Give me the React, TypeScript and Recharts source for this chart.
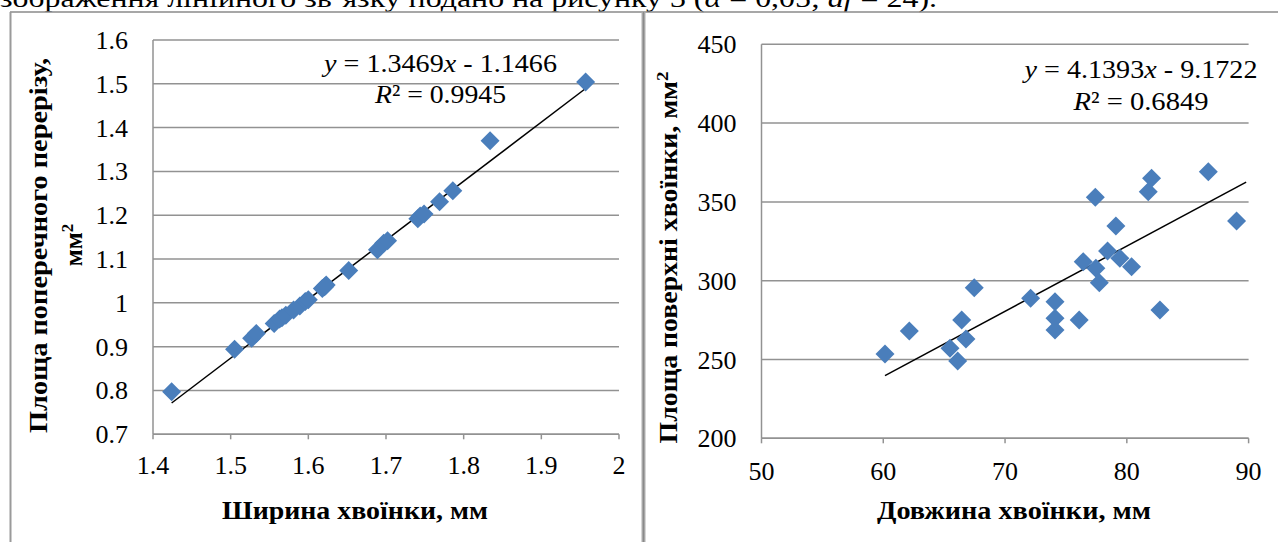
import React from 'react';
import { ScatterChart, Scatter, XAxis, YAxis, CartesianGrid, ReferenceLine } from 'recharts';

// ---- Left chart: needle width (mm) vs cross-section area (mm²)
const leftWidth = [1.424, 1.505, 1.527, 1.533, 1.556, 1.563, 1.566, 1.571, 1.581, 1.589, 1.596, 1.600, 1.618, 1.621, 1.623, 1.652, 1.689, 1.697, 1.702, 1.741, 1.744, 1.749, 1.769, 1.786, 1.834, 1.957];
const leftArea = [0.797, 0.894, 0.919, 0.930, 0.953, 0.963, 0.966, 0.972, 0.984, 0.993, 1.003, 1.007, 1.033, 1.037, 1.041, 1.074, 1.121, 1.136, 1.142, 1.192, 1.198, 1.203, 1.231, 1.256, 1.370, 1.504];
const leftSlope = 1.3469;
const leftIntercept = -1.1466;
const leftR2 = '0.9945';
const leftTrendX = [1.424, 1.957];
const leftXTicks = [1.4, 1.5, 1.6, 1.7, 1.8, 1.9, 2];
const leftYTicks = [0.7, 0.8, 0.9, 1, 1.1, 1.2, 1.3, 1.4, 1.5, 1.6];

// ---- Right chart: needle length (mm) vs needle surface area (mm²)
const rightLength = [60.14, 62.14, 66.44, 67.47, 65.48, 66.11, 66.79, 72.1, 74.1, 74.1, 74.1, 76.09, 76.42, 77.46, 77.74, 77.41, 78.42, 79.1, 79.43, 80.39, 81.76, 82.03, 82.72, 86.69, 89.01];
const rightSurface = [253.5, 268.1, 275.1, 295.6, 257.1, 249.1, 263.0, 288.8, 286.7, 276.1, 268.7, 275.1, 312.1, 307.9, 298.7, 352.9, 318.8, 334.7, 314.2, 308.9, 356.5, 365.0, 281.4, 369.2, 337.9];
const rightSlope = 4.1393;
const rightIntercept = -9.1722;
const rightR2 = '0.6849';
const rightTrendX = [60.14, 89.8];
const rightXTicks = [50, 60, 70, 80, 90];
const rightYTicks = [200, 250, 300, 350, 400, 450];

const leftData = leftWidth.map((x, i) => ({ x, y: leftArea[i] }));
const rightData = rightLength.map((x, i) => ({ x, y: rightSurface[i] }));

const SERIF = "'Liberation Serif', 'Times New Roman', serif";
const GRID = '#929292';
const MARK = '#4A7EBB';

const Diamond = (props: any) => {
  const { cx, cy } = props;
  if (cx == null || cy == null) return null;
  const r = 9.5;
  return (
    <polygon
      points={`${cx},${cy - r} ${cx + r},${cy} ${cx},${cy + r} ${cx - r},${cy}`}
      fill={MARK}
    />
  );
};

const XTick = (props: any) => {
  const { x, y, payload } = props;
  return (
    <text x={x} y={y} dy={18} textAnchor="middle" fontSize={26} fontFamily={SERIF} fill="#000">
      {String(payload.value)}
    </text>
  );
};

const YTick = (props: any) => {
  const { x, y, payload } = props;
  return (
    <text x={x} y={y} dy={9} textAnchor="end" fontSize={26} fontFamily={SERIF} fill="#000">
      {String(payload.value)}
    </text>
  );
};

export default function App() {
  return (
    <div style={{ position: 'absolute', left: 0, top: 0, width: 1278, height: 542, overflow: 'hidden', background: '#fff', fontFamily: SERIF }}>
      <div style={{ position: 'absolute', left: 0, top: 0 }}>
        <ScatterChart width={642} height={542} margin={{ top: 40, left: 93, right: 23, bottom: 77.7 }}>
          <CartesianGrid horizontal vertical={false} stroke={GRID} strokeWidth={1.5} />
          <XAxis
            type="number"
            dataKey="x"
            domain={[1.4, 2]}
            ticks={leftXTicks}
            height={30}
            tick={<XTick />}
            tickSize={5}
            tickMargin={17}
            axisLine={{ stroke: GRID, strokeWidth: 1.5 }}
            tickLine={{ stroke: GRID, strokeWidth: 1.5 }}
          />
          <YAxis
            type="number"
            dataKey="y"
            domain={[0.7, 1.6]}
            ticks={leftYTicks}
            width={60}
            tick={<YTick />}
            tickSize={0}
            tickMargin={25}
            axisLine={{ stroke: GRID, strokeWidth: 1.5 }}
            tickLine={false}
          />
          <Scatter data={leftData} shape={Diamond} isAnimationActive={false} />
          <ReferenceLine
            segment={[
              { x: leftTrendX[0], y: leftSlope * leftTrendX[0] + leftIntercept },
              { x: leftTrendX[1], y: leftSlope * leftTrendX[1] + leftIntercept },
            ]}
            stroke="#000"
            strokeWidth={1.5}
          />
        </ScatterChart>
      </div>
      <div style={{ position: 'absolute', left: 646, top: 0 }}>
        <ScatterChart width={632} height={542} margin={{ top: 44.3, left: 55.5, right: 29.4, bottom: 73.7 }}>
          <CartesianGrid horizontal vertical={false} stroke={GRID} strokeWidth={1.5} />
          <XAxis
            type="number"
            dataKey="x"
            domain={[50, 90]}
            ticks={rightXTicks}
            height={30}
            tick={<XTick />}
            tickSize={5}
            tickMargin={19}
            axisLine={{ stroke: GRID, strokeWidth: 1.5 }}
            tickLine={{ stroke: GRID, strokeWidth: 1.5 }}
          />
          <YAxis
            type="number"
            dataKey="y"
            domain={[200, 450]}
            ticks={rightYTicks}
            width={60}
            tick={<YTick />}
            tickSize={0}
            tickMargin={25}
            axisLine={{ stroke: GRID, strokeWidth: 1.5 }}
            tickLine={false}
          />
          <Scatter data={rightData} shape={Diamond} isAnimationActive={false} />
          <ReferenceLine
            segment={[
              { x: rightTrendX[0], y: rightSlope * rightTrendX[0] + rightIntercept },
              { x: rightTrendX[1], y: rightSlope * rightTrendX[1] + rightIntercept },
            ]}
            stroke="#000"
            strokeWidth={1.5}
          />
        </ScatterChart>
      </div>
      <svg
        width={1278}
        height={542}
        style={{ position: 'absolute', left: 0, top: 0, pointerEvents: 'none' }}
        fontFamily={SERIF}
      >
        {/* paragraph text, cut at the top edge as in the source */}
        <text x={0} y={7} fontSize={26} textLength={937} lengthAdjust="spacingAndGlyphs">
          зображення лінійного зв’язку подано на рисунку 3 (<tspan fontStyle="italic">α</tspan> = 0,05; <tspan fontStyle="italic">df</tspan> = 24).
        </text>
        {/* table borders */}
        <line x1={10} y1={12} x2={1278} y2={12} stroke="#8a8a8a" strokeWidth={1.5} />
        <line x1={10.5} y1={12} x2={10.5} y2={542} stroke="#9a9a9a" strokeWidth={2} />
        <line x1={643.5} y1={12} x2={643.5} y2={542} stroke="#b0b0b0" strokeWidth={4} />
        <line x1={643.5} y1={12} x2={643.5} y2={542} stroke="#8a8a8a" strokeWidth={1.5} />

        {/* left equation */}
        <text x={324} y={72} fontSize={26} textLength={233} lengthAdjust="spacingAndGlyphs">
          <tspan fontStyle="italic">y</tspan> = {leftSlope}<tspan fontStyle="italic">x</tspan> - {Math.abs(leftIntercept)}
        </text>
        <text x={375} y={103} fontSize={26} textLength={131} lengthAdjust="spacingAndGlyphs">
          <tspan fontStyle="italic">R</tspan>² = {leftR2}
        </text>
        {/* right equation */}
        <text x={1024.5} y={78} fontSize={26} textLength={233} lengthAdjust="spacingAndGlyphs">
          <tspan fontStyle="italic">y</tspan> = {rightSlope}<tspan fontStyle="italic">x</tspan> - {Math.abs(rightIntercept)}
        </text>
        <text x={1073.5} y={110} fontSize={26} textLength={135} lengthAdjust="spacingAndGlyphs">
          <tspan fontStyle="italic">R</tspan>² = {rightR2}
        </text>

        {/* axis titles */}
        <text x={222} y={519} fontSize={25} fontWeight="bold" textLength={266} lengthAdjust="spacingAndGlyphs">
          Ширина хвоїнки, мм
        </text>
        <text x={877} y={519} fontSize={25} fontWeight="bold" textLength={274} lengthAdjust="spacingAndGlyphs">
          Довжина хвоїнки, мм
        </text>
        <text
          transform="translate(47,245.5) rotate(-90)"
          x={0}
          y={0}
          fontSize={25}
          fontWeight="bold"
          textAnchor="middle"
          textLength={375}
          lengthAdjust="spacingAndGlyphs"
        >
          Площа поперечного перерізу,
        </text>
        <text transform="translate(82,245) rotate(-90)" x={0} y={0} fontSize={25} fontWeight="bold" textAnchor="middle">
          мм<tspan fontSize={17} dy={-9}>2</tspan>
        </text>
        <text
          transform="translate(677,257.5) rotate(-90)"
          x={0}
          y={0}
          fontSize={25}
          fontWeight="bold"
          textAnchor="middle"
          textLength={372}
          lengthAdjust="spacingAndGlyphs"
        >
          Площа поверхні хвоїнки, мм<tspan fontSize={17} dy={-9}>2</tspan>
        </text>
      </svg>
    </div>
  );
}
